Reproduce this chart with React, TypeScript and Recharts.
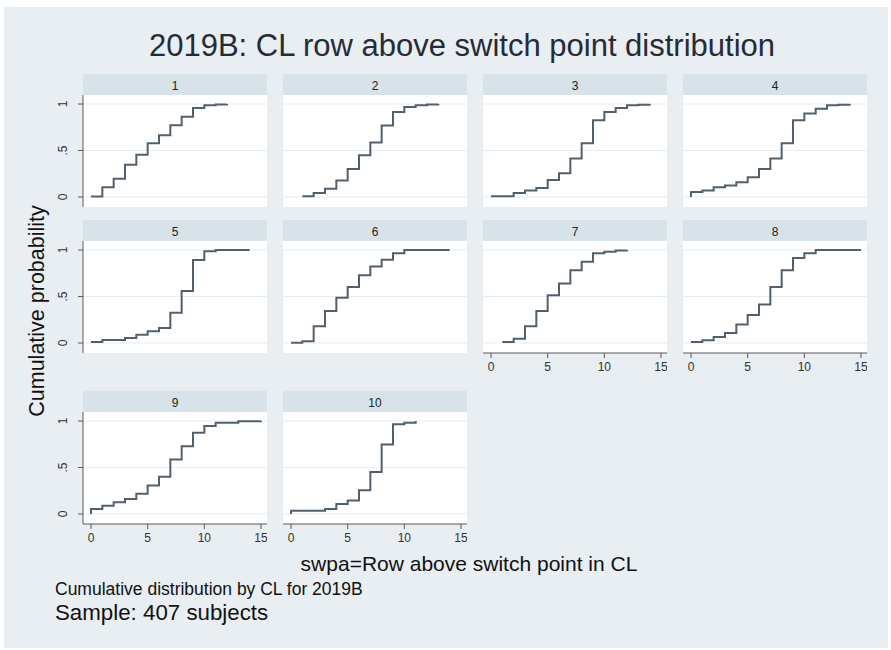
import { LineChart, Line, XAxis, YAxis, CartesianGrid } from 'recharts';

// CL groups and tick labels
const panelLabels = ['1', '2', '3', '4', '5', '6', '7', '8', '9', '10'];
const xTicks = [0, 5, 10, 15];
const yTicks = [0, 0.5, 1];

// swpa values (x) and cumulative share (y) per CL
const swpa1 = [0, 1, 2, 3, 4, 5, 6, 7, 8, 9, 10, 11, 12];
const cum1 = [0.005, 0.106, 0.195, 0.348, 0.454, 0.578, 0.663, 0.773, 0.862, 0.957, 0.986, 0.995, 1];

const swpa2 = [1, 2, 3, 4, 5, 6, 7, 8, 9, 10, 11, 12, 13];
const cum2 = [0.007, 0.043, 0.089, 0.177, 0.301, 0.45, 0.585, 0.77, 0.915, 0.968, 0.986, 0.995, 1];

const swpa3 = [0, 2, 3, 4, 5, 6, 7, 8, 9, 10, 11, 12, 13, 14];
const cum3 = [0.007, 0.043, 0.071, 0.096, 0.184, 0.255, 0.415, 0.578, 0.826, 0.915, 0.957, 0.986, 0.993, 1];

const swpa4 = [0, 0, 1, 2, 3, 4, 5, 6, 7, 8, 9, 10, 11, 12, 13, 14];
const cum4 = [0, 0.053, 0.071, 0.106, 0.124, 0.16, 0.213, 0.3, 0.415, 0.578, 0.826, 0.897, 0.95, 0.986, 0.993, 1];

const swpa5 = [0, 1, 3, 4, 5, 6, 7, 8, 9, 10, 11, 14];
const cum5 = [0.011, 0.032, 0.054, 0.09, 0.126, 0.162, 0.325, 0.56, 0.892, 0.986, 1, 1];

const swpa6 = [0, 1, 2, 3, 4, 5, 6, 7, 8, 9, 10, 14];
const cum6 = [0.003, 0.018, 0.18, 0.343, 0.487, 0.603, 0.729, 0.823, 0.895, 0.964, 1, 1];

const swpa7 = [1, 2, 3, 4, 5, 6, 7, 8, 9, 10, 11, 12];
const cum7 = [0.011, 0.047, 0.18, 0.343, 0.513, 0.639, 0.783, 0.874, 0.964, 0.982, 0.995, 1];

const swpa8 = [0, 1, 2, 3, 4, 5, 6, 7, 8, 9, 10, 11, 15];
const cum8 = [0.011, 0.029, 0.065, 0.108, 0.199, 0.3, 0.415, 0.603, 0.783, 0.913, 0.964, 1, 1];

const swpa9 = [0, 0, 1, 2, 3, 4, 5, 6, 7, 8, 9, 10, 11, 13, 15];
const cum9 = [0, 0.054, 0.09, 0.126, 0.162, 0.219, 0.306, 0.4, 0.586, 0.73, 0.874, 0.946, 0.982, 0.998, 1];

const swpa10 = [0, 0, 3, 4, 5, 6, 7, 8, 9, 10, 11];
const cum10 = [0, 0.036, 0.054, 0.108, 0.144, 0.255, 0.453, 0.748, 0.964, 0.982, 1];

const allSwpa = [swpa1, swpa2, swpa3, swpa4, swpa5, swpa6, swpa7, swpa8, swpa9, swpa10];
const allCum = [cum1, cum2, cum3, cum4, cum5, cum6, cum7, cum8, cum9, cum10];

// layout
const FONT = '"Liberation Sans", Arial, Helvetica, sans-serif';
const BG = '#e8eef2';
const STRIP = '#d8e2e9';
const LINE = '#52606d';
const GRID = '#e6edf1';
const AXIS = '#5a5a5a';
const COLS = [83, 283, 483, 683];
const ROWS = [74, 220, 391];
const PANEL_W = 184;
const STRIP_H = 21;
const PLOT_H = 112;
const X_DOMAIN = [-0.706, 15.53];
const Y_DOMAIN = [-0.1075, 1.097];

const YTick = (props: any) => {
  const { x, y, payload } = props;
  const v = payload.value;
  const label = v === 0.5 ? '.5' : String(v);
  const bx = x - 9;
  return (
    <text
      x={bx}
      y={y}
      transform={`rotate(-90 ${bx} ${y})`}
      textAnchor="middle"
      fontSize={12}
      fontFamily={FONT}
      fill="#333"
    >
      {label}
    </text>
  );
};

function Panel({ i }: { i: number }) {
  const col = i % 4;
  const row = Math.floor(i / 4);
  const showY = col === 0;
  const showX = i >= 6;
  const yw = showY ? 40 : 0;
  const xh = showX ? 30 : 0;
  const data = allSwpa[i].map((x, k) => ({ x, y: allCum[i][k] }));

  return (
    <div
      style={{
        position: 'absolute',
        left: COLS[col] - yw,
        top: ROWS[row] + STRIP_H,
        width: PANEL_W + yw,
        height: PLOT_H + xh,
      }}
    >
      <LineChart
        width={PANEL_W + yw}
        height={PLOT_H + xh}
        data={data}
        margin={{ top: 0, right: 0, bottom: 0, left: 0 }}
      >
        <CartesianGrid vertical={false} horizontalValues={yTicks} stroke={GRID} fill="#fff" />
        <XAxis
          hide={!showX}
          dataKey="x"
          type="number"
          domain={X_DOMAIN}
          ticks={xTicks}
          allowDataOverflow
          height={30}
          stroke={AXIS}
          tickSize={5}
          tickMargin={4}
          tick={{ fontSize: 12, fill: '#333', fontFamily: FONT }}
        />
        <YAxis
          hide={!showY}
          type="number"
          domain={Y_DOMAIN}
          ticks={yTicks}
          allowDataOverflow
          width={40}
          stroke={AXIS}
          tickSize={5}
          tickMargin={2}
          tick={<YTick />}
        />
        <Line
          dataKey="y"
          type="stepAfter"
          stroke={LINE}
          strokeWidth={2}
          dot={false}
          isAnimationActive={false}
        />
      </LineChart>
    </div>
  );
}

export default function App() {
  return (
    <div style={{ position: 'absolute', left: 0, top: 0, width: 891, height: 650, background: '#fff' }}>
      <div style={{ position: 'absolute', left: 4, top: 7, width: 884, height: 641, background: BG }} />
      <svg width={891} height={650} style={{ position: 'absolute', left: 0, top: 0 }} fontFamily={FONT}>
        <text x={462} y={45} textAnchor="middle" dominantBaseline="central" fontSize={31} fill="#262b36">
          2019B: CL row above switch point distribution
        </text>
        {panelLabels.map((lab, i) => {
          const col = i % 4;
          const row = Math.floor(i / 4);
          return (
            <g key={lab}>
              <rect x={COLS[col]} y={ROWS[row]} width={PANEL_W} height={STRIP_H} fill={STRIP} />
              <text
                x={COLS[col] + PANEL_W / 2}
                y={ROWS[row] + STRIP_H / 2 + 1}
                textAnchor="middle"
                dominantBaseline="central"
                fontSize={12}
                fill="#222"
              >
                {lab}
              </text>
            </g>
          );
        })}
        <text
          x={37}
          y={311}
          transform="rotate(-90 37 311)"
          textAnchor="middle"
          dominantBaseline="central"
          fontSize={21.5}
          fill="#111"
        >
          Cumulative probability
        </text>
        <text x={469} y={563} textAnchor="middle" dominantBaseline="central" fontSize={21} fill="#111">
          swpa=Row above switch point in CL
        </text>
        <text x={55} y={589} dominantBaseline="central" fontSize={17.5} fill="#111">
          Cumulative distribution by CL for 2019B
        </text>
        <text x={55} y={612} dominantBaseline="central" fontSize={22.3} fill="#111">
          Sample: 407 subjects
        </text>
      </svg>
      {panelLabels.map((lab, i) => (
        <Panel key={lab} i={i} />
      ))}
    </div>
  );
}
